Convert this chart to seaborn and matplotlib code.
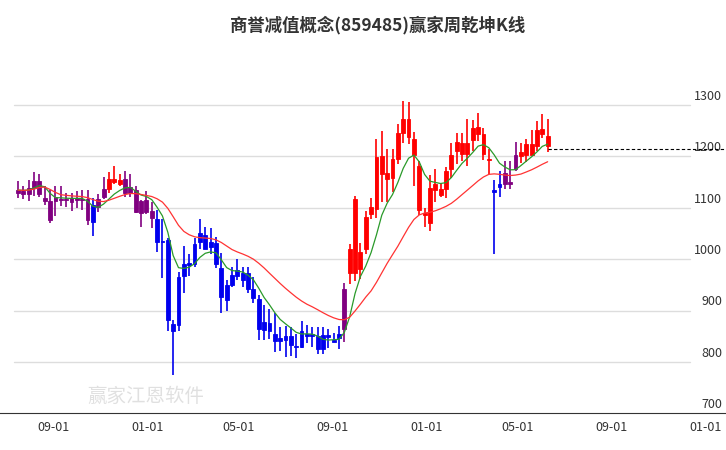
import numpy as np
import pandas as pd
import matplotlib
matplotlib.use('Agg')
import matplotlib.pyplot as plt
import matplotlib.dates as mdates
import seaborn as sns

# weekly candles
opens = [1129, 1126, 1126, 1139, 1126, 1113, 1112, 1113, 1115, 1114, 1110, 1114, 1115, 1116, 1106, 1101, 1121, 1136, 1149, 1145, 1129, 1140, 1134, 1089, 1092, 1093, 1077, 1036, 1038, 874, 871, 967, 988, 990,
         1033, 1046, 1033, 1032, 983, 920, 950, 968, 972, 972, 941, 923, 863, 875, 855, 840, 843, 850, 832, 830, 854, 851, 851, 853, 848, 843, 846,
         865, 972, 972, 980, 1019, 1088, 1097, 1166, 1168, 1158, 1195, 1244, 1273, 1233, 1180, 1090, 1071, 1134, 1125, 1136, 1175, 1210, 1205, 1205, 1232, 1242, 1242, 1195, 1135, 1140, 1145, 1150, 1175, 1200, 1203, 1203, 1220, 1242, 1239]
closes = [1134, 1132, 1139, 1151, 1151, 1118, 1076, 1121, 1116, 1116, 1118, 1118, 1117, 1076, 1072, 1116, 1136, 1155, 1155, 1153, 1155, 1128, 1092, 1112, 1114, 1080, 1033, 1033, 882, 860, 965, 990, 993, 1030,
          1050, 1020, 1024, 990, 926, 950, 970, 978, 960, 941, 925, 864, 878, 860, 840, 847, 850, 834, 830, 860, 851, 854, 825, 825, 852, 838, 855,
          941, 1019, 1117, 1013, 1082, 1101, 1199, 1201, 1156, 1195, 1244, 1272, 1238, 1203, 1096, 1086, 1138, 1145, 1136, 1172, 1203, 1227, 1226, 1226, 1255, 1257, 1205, 1192, 1130, 1145, 1168, 1146, 1203, 1208, 1224, 1224, 1250, 1252, 1220]
highs = [1151, 1141, 1154, 1170, 1165, 1141, 1135, 1141, 1141, 1129, 1129, 1132, 1135, 1134, 1118, 1126, 1160, 1170, 1180, 1166, 1172, 1166, 1141, 1115, 1132, 1110, 1095, 1077, 1041, 882, 975, 1026, 1010, 1041,
         1077, 1062, 1060, 1042, 1012, 960, 985, 1000, 985, 985, 965, 931, 910, 903, 895, 868, 870, 868, 855, 880, 872, 869, 868, 868, 865, 856, 870,
         953, 1030, 1122, 1031, 1093, 1118, 1234, 1249, 1214, 1214, 1262, 1308, 1305, 1246, 1190, 1100, 1164, 1175, 1148, 1178, 1226, 1245, 1245, 1273, 1270, 1283, 1255, 1213, 1153, 1171, 1191, 1191, 1228, 1226, 1233, 1250, 1268, 1282, 1272]
lows = [1118, 1116, 1112, 1123, 1121, 1106, 1070, 1083, 1103, 1101, 1094, 1099, 1096, 1066, 1045, 1091, 1117, 1128, 1145, 1141, 1121, 1120, 1089, 1063, 1087, 1061, 1014, 963, 860, 775, 860, 935, 967, 985,
         1019, 1019, 1010, 983, 895, 900, 945, 960, 945, 935, 915, 843, 843, 845, 820, 822, 810, 812, 808, 827, 837, 830, 815, 815, 828, 838, 825,
         838, 952, 958, 962, 1010, 1078, 1080, 1110, 1110, 1130, 1184, 1226, 1223, 1142, 1085, 1062, 1054, 1110, 1120, 1118, 1158, 1185, 1190, 1180, 1210, 1230, 1192, 1165, 1010, 1121, 1136, 1136, 1171, 1186, 1189, 1203, 1210, 1235, 1208]
kind = list('ppppppppppppppbpprrrppppppbbbbbbbb' 'bbbbbbbbbbbbbbbbbbbbbbbbbbb' 'prrrrrrrrrrrrrrrrrrrrrrrrrrrbbppprrrrrr')
tick_dates = ['2021-09-01', '2022-01-01', '2022-05-01', '2022-09-01', '2023-01-01', '2023-05-01', '2023-09-01', '2024-01-01']

dates = pd.date_range('2021-07-16', periods=len(opens), freq='W-FRI')
df = pd.DataFrame({'date': dates, 'open': opens, 'close': closes, 'high': highs, 'low': lows, 'kind': kind})
df['ma_short'] = df['close'].ewm(span=7).mean().rolling(2, min_periods=1).mean()
df['ma_long'] = df['close'].ewm(span=22).mean().rolling(3, min_periods=1).mean()
colours = {'r': '#ff0000', 'b': '#0000ee', 'p': '#800080'}

sns.set_style('white')
plt.rcParams['font.family'] = ['Noto Sans CJK SC', 'DejaVu Sans']

fig = plt.figure(figsize=(7.26, 4.5), dpi=100)
ax = fig.add_axes([0.0, 1 - 413 / 450, 1.0, (413 - 48) / 450])
x = mdates.date2num(df['date'])
wk = 7 / 5.35  # days per pixel
xmin = x[0] - 18 * wk
xmax = x[0] + (726 - 18) * wk
ax.set_xlim(xmin, xmax)
ax.set_ylim(701, 1410)

for v in range(800, 1400, 100):
    ax.plot([xmin + 14 * wk, xmax - 36 * wk], [v, v], color='#dddddd', lw=1, zorder=0)
for v in range(700, 1400, 100):
    ax.text(xmax - 4 * wk, v + 4, str(v), ha='right', va='bottom', fontsize=9, color='#333333')

c = [colours[k] for k in df['kind']]
ax.vlines(x, df['low'], df['high'], colors=c, lw=1.2, zorder=2)
bottom = np.minimum(df['open'], df['close'])
height = np.maximum(np.abs(df['close'] - df['open']), 2)
ax.bar(x, height, bottom=bottom, width=5.0, color=c, edgecolor=c, linewidth=0.6, zorder=3)

sns.lineplot(x=x, y=df['ma_short'], ax=ax, color='#2a9a2a', lw=0.9, zorder=4)
sns.lineplot(x=x, y=df['ma_long'], ax=ax, color='#ff3333', lw=0.9, zorder=4)
ax.plot([x[-1], xmax], [df['close'].iloc[-1] - 7] * 2, color='black', lw=0.8, ls=(0, (3, 2)), zorder=4)

tk = mdates.date2num(pd.to_datetime(tick_dates))
ax.set_xticks(tk)
ax.set_xticklabels([d[5:] for d in tick_dates], fontsize=9, color='#333333')
ax.tick_params(axis='x', length=4, width=1, direction='out', pad=2)
ax.set_yticks([])
ax.set_ylabel('')
for s in ['top', 'right', 'left']:
    ax.spines[s].set_visible(False)
ax.spines['bottom'].set_color('#333333')

fig.text(0.52, 1 - 25 / 450, '商誉减值概念(859485)赢家周乾坤K线', ha='center', va='center', fontsize=12.5, fontweight='bold', color='#333333')
fig.text(0.12, 1 - 402 / 450, '赢家江恩软件', fontsize=14, color='#cccccc', alpha=0.6, zorder=0)

fig.savefig('out.png', dpi=100)
